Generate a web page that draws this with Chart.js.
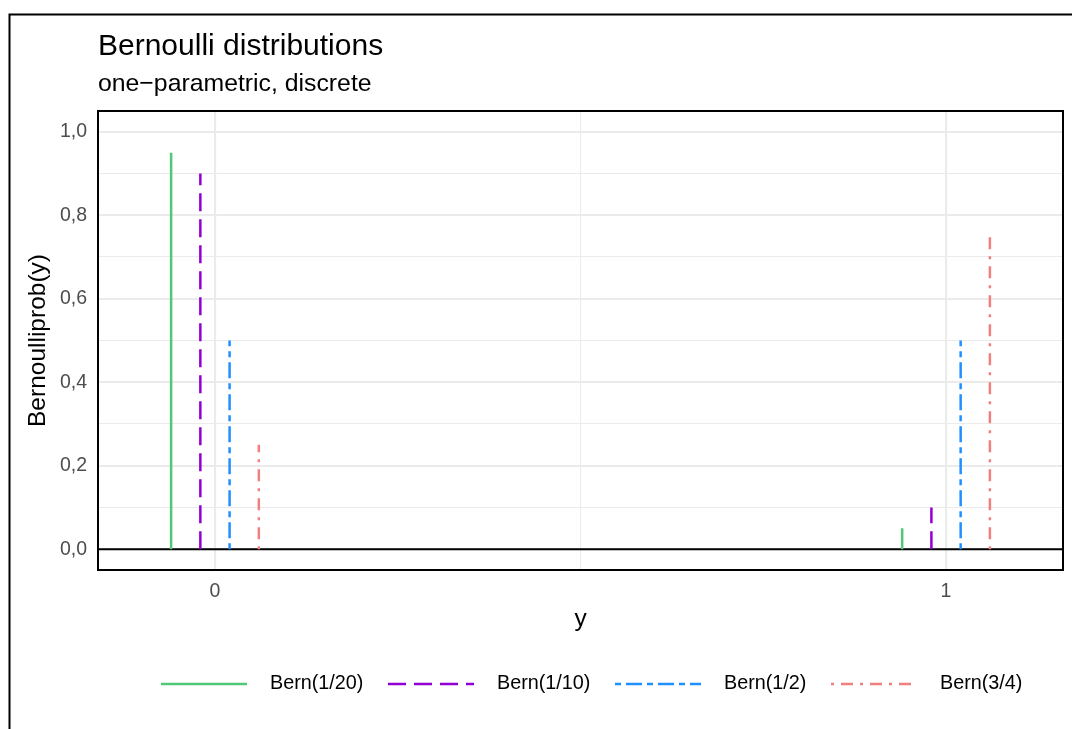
<!DOCTYPE html>
<html>
<head>
<meta charset="utf-8">
<script src="https://cdn.jsdelivr.net/npm/chart.js@4.4.1/dist/chart.umd.min.js"></script>
<style>
  html, body { margin: 0; padding: 0; background: #fff; }
  canvas { display: block; }
</style>
</head>
<body>
<canvas id="chart" width="1072" height="729"></canvas>
<script>
// Data
var seriesLabels = ['Bern(1/20)', 'Bern(1/10)', 'Bern(1/2)', 'Bern(3/4)'];
var outcomes = [0, 1];
var probZero = [0.95, 0.90, 0.50, 0.25];
var probOne = [0.05, 0.10, 0.50, 0.75];
var dodge = [-0.06, -0.02, 0.02, 0.06];
var yMajor = [0, 0.2, 0.4, 0.6, 0.8, 1.0];
var yMinor = [0.1, 0.3, 0.5, 0.7, 0.9];
var xMajor = [0, 1];
var xMinor = [0.5];

// Styles
var colors = ['#50C878', '#9400D3', '#1E90FF', '#F08080'];
var dashes = [[], [18, 8], [6, 5, 16, 5], [3, 7, 12, 7]];
var FONT = "'Liberation Sans', Arial, sans-serif";

function isIn(list, v) {
    for (var i = 0; i < list.length; i++) {
        if (Math.abs(list[i] - v) < 1e-9) return true;
    }
    return false;
}

// one dataset per distribution, two vertical segments split by a gap
var datasets = seriesLabels.map(function(label, i) {
    var probs = [probZero[i], probOne[i]];
    var pts = [];
    outcomes.forEach(function(o, k) {
        if (k > 0) pts.push({ x: o + dodge[i], y: null });
        pts.push({ x: o + dodge[i], y: 0 });
        pts.push({ x: o + dodge[i], y: probs[k] });
    });
    return {
        label: label,
        data: pts,
        borderColor: colors[i],
        borderWidth: 2.5,
        borderDash: dashes[i],
        borderCapStyle: 'butt',
        pointRadius: 0,
        spanGaps: false,
        tension: 0
    };
});

function gridWidth(minor) {
    return function(ctx) {
        if (!ctx.tick) return 0;
        return isIn(minor, ctx.tick.value) ? 1.1 : 2.1;
    };
}

var decorations = {
    id: 'decorations',
    beforeDraw: function(chart) {
        var c = chart.ctx;
        c.save();
        c.fillStyle = '#fff';
        c.fillRect(0, 0, chart.width, chart.height);
        c.restore();
    },
    beforeDatasetsDraw: function(chart) {
        var c = chart.ctx, a = chart.chartArea;
        var y0 = chart.scales.y.getPixelForValue(0);
        c.save();
        c.strokeStyle = '#000';
        c.lineWidth = 2;
        c.beginPath();
        c.moveTo(a.left, y0);
        c.lineTo(a.right, y0);
        c.stroke();
        c.restore();
    },
    afterDraw: function(chart) {
        var c = chart.ctx, a = chart.chartArea;
        c.save();
        // outer frame
        c.strokeStyle = '#000';
        c.lineWidth = 2;
        c.strokeRect(9.5, 14.5, 1200, 1200);
        // panel border
        c.lineWidth = 2;
        c.strokeRect(a.left, a.top, a.right - a.left, a.bottom - a.top);

        // titles
        c.fillStyle = '#000';
        c.textAlign = 'left';
        c.textBaseline = 'alphabetic';
        c.font = '30px ' + FONT;
        c.fillText('Bernoulli distributions', 98, 55);
        c.font = '24.8px ' + FONT;
        c.fillText('one\u2212parametric, discrete', 98, 91);

        // axis titles
        c.textAlign = 'center';
        c.textBaseline = 'middle';
        c.font = '24.5px ' + FONT;
        c.fillText('y', (a.left + a.right) / 2, 619);
        c.save();
        c.translate(38, (a.top + a.bottom) / 2);
        c.rotate(-Math.PI / 2);
        c.fillText('Bernoulliprob(y)', 0, 0);
        c.restore();

        // legend
        var keyX = [161, 388, 615, 831];
        var textX = [270, 497, 724, 940];
        var ly = 684;
        c.font = '19.8px ' + FONT;
        c.textAlign = 'left';
        c.textBaseline = 'middle';
        for (var i = 0; i < seriesLabels.length; i++) {
            c.strokeStyle = colors[i];
            c.lineWidth = 2.6;
            c.lineCap = 'butt';
            c.setLineDash(dashes[i]);
            c.beginPath();
            c.moveTo(keyX[i], ly);
            c.lineTo(keyX[i] + 86, ly);
            c.stroke();
            c.setLineDash([]);
            c.fillStyle = '#000';
            c.fillText(seriesLabels[i], textX[i], ly);
        }
        c.restore();
    }
};

new Chart(document.getElementById('chart'), {
    type: 'line',
    data: { datasets: datasets },
    plugins: [decorations],
    options: {
        responsive: false,
        animation: false,
        layout: { padding: { top: 111, right: 9, left: 0, bottom: 0 } },
        plugins: {
            legend: { display: false },
            tooltip: { enabled: false }
        },
        scales: {
            x: {
                type: 'linear',
                min: -0.16,
                max: 1.16,
                afterFit: function(scale) { scale.height = 159; },
                afterBuildTicks: function(scale) {
                    scale.ticks = xMajor.concat(xMinor).map(function(v) { return { value: v }; });
                },
                grid: { color: '#ebebeb', lineWidth: gridWidth(xMinor), drawTicks: false },
                border: { display: false },
                ticks: {
                    padding: 10,
                    color: '#4d4d4d',
                    font: { family: FONT, size: 19.5 },
                    autoSkip: false,
                    maxRotation: 0,
                    callback: function(v) { return isIn(xMinor, v) ? '' : String(v); }
                }
            },
            y: {
                type: 'linear',
                min: -0.05,
                max: 1.05,
                afterFit: function(scale) { scale.width = 98; },
                afterBuildTicks: function(scale) {
                    scale.ticks = yMajor.concat(yMinor).map(function(v) { return { value: v }; });
                },
                grid: { color: '#ebebeb', lineWidth: gridWidth(yMinor), drawTicks: false },
                border: { display: false },
                ticks: {
                    padding: 11,
                    color: '#4d4d4d',
                    font: { family: FONT, size: 19.5 },
                    autoSkip: false,
                    callback: function(v) {
                        return isIn(yMinor, v) ? '' : v.toFixed(1).replace('.', ',');
                    }
                }
            }
        }
    }
});
</script>
</body>
</html>
